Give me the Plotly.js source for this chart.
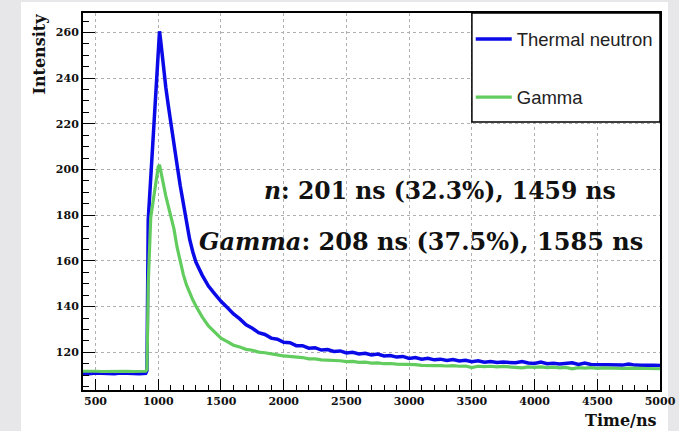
<!DOCTYPE html>
<html>
<head>
<meta charset="utf-8">
<script src="https://cdn.plot.ly/plotly-3.0.1.min.js"></script>
<style>
html,body{margin:0;padding:0;background:#e7e7e9;width:679px;height:431px;overflow:hidden;}
#chart{position:absolute;left:21px;top:2px;width:647px;height:429px;}
.main-svg{overflow:visible !important;}
</style>
</head>
<body>
<div id="chart"></div>
<script>
// Time axis (ns)
const time = [
  400,450,500,550,600,650,700,750,800,850,900,
  910,920,940,960,980,990,1000,1010,1020,1030,1040,1060,1080,1100,1125,1150,1175,1200,1225,1250,1275,1300,
  1350,1400,1450,1500,1550,1600,1650,1700,1750,1800,1850,1900,1950,2000,
  2050,2100,2150,2200,2250,2300,2350,2400,2450,2500,2550,2600,2650,2700,2750,2800,2850,2900,2950,3000,
  3050,3100,3150,3200,3250,3300,3350,3400,3450,3500,3550,3600,3650,3700,3750,3800,3850,3900,3950,4000,
  4050,4100,4150,4200,4250,4300,4350,4400,4450,4500,4550,4600,4650,4700,4750,4800,4850,4900,4950,5000
];
// Thermal neutron intensity
const neutron = [
  110.8,110.6,110.9,110.7,110.8,110.6,110.9,110.7,110.8,110.6,110.8,
  112,178,197,216,236,247,256.5,260.5,256,250,244,236,228,220,211,202,193,184.5,176.5,169.5,164,159.5,
  153.8,149,145.6,142.3,139.6,136.8,134.6,132.0,130.5,128.6,127.8,126.2,125.7,124.4,
  124.2,122.9,122.9,121.8,122.0,121.0,121.2,120.4,120.6,119.7,120.0,119.3,119.6,118.8,119.2,118.4,118.6,117.9,118.2,117.3,
  117.7,117.0,117.4,116.7,117.0,116.4,116.8,116.2,116.5,115.9,116.3,115.7,116.0,115.5,115.7,115.4,115.4,116.0,115.3,115.1,
  115.7,115.0,115.2,114.9,115.0,115.4,114.7,115.3,114.7,114.6,114.7,114.4,114.6,114.4,114.9,114.4,114.3,114.4,114.3,114.2
];
// Gamma intensity
const gamma = [
  111.7,111.8,111.7,111.6,111.7,111.8,111.7,111.7,111.6,111.7,111.7,
  112.5,150,179,186,194,198,201.3,202,199,196,193,188.5,184,179.5,174,166,159.5,154,149.5,146,143,140.3,
  135.5,131.5,128.6,126.2,124.7,123.1,122.3,121.3,120.9,120.1,119.8,119.2,118.9,118.4,
  118.2,117.7,117.7,117.1,117.1,116.7,116.6,116.3,116.3,115.9,116.0,115.6,115.7,115.3,115.4,115.0,115.1,114.8,114.8,114.5,
  114.6,114.3,114.4,114.2,114.2,114.0,114.2,113.9,114.0,113.3,113.9,113.7,113.9,113.6,113.8,113.6,113.1,113.2,113.6,113.4,
  113.6,113.3,113.5,113.2,113.4,112.8,113.3,113.1,113.3,113.0,113.2,113.0,113.1,112.9,113.1,112.9,113.0,112.9,112.9,112.8
];
const seriesNames = ['Thermal neutron', 'Gamma'];
const xTicks = [500,1000,1500,2000,2500,3000,3500,4000,4500,5000];
const yTicks = [120,140,160,180,200,220,240,260];
const fitText = [
  '<i>n</i>: 201 ns (32.3%), 1459 ns',
  '<i>Gamma</i>: 208 ns (37.5%), 1585 ns'
];

const serif = {family:'DejaVu Serif', size:11, weight:'bold', color:'#111'};

const traces = [
  {x: time, y: neutron, type:'scatter', mode:'lines', name: seriesNames[0], legendgroup:'a',
   line:{color:'#0a0ae8', width:3.5}},
  {x: time, y: gamma, type:'scatter', mode:'lines', name: seriesNames[1], legendgroup:'b',
   line:{color:'#62cd5e', width:3.2}}
];

const layout = {
  width:647, height:429,
  margin:{l:62, r:8, t:11, b:41},
  paper_bgcolor:'#ffffff', plot_bgcolor:'#ffffff',
  showlegend:true,
  legend:{x:0.672, xanchor:'left', y:0.980, yanchor:'top', bgcolor:'rgba(0,0,0,0)', borderwidth:0,
          itemwidth:36,
          font:{family:'Liberation Sans', size:18.5, color:'#222'}, traceorder:'grouped', tracegroupgap:31},
  xaxis:{range:[400,5000], tickvals:xTicks, ticks:'inside', ticklen:11, tickwidth:1, tickcolor:'#000',
         showline:true, linewidth:2, linecolor:'#000', mirror:true, zeroline:false,
         showgrid:true, gridcolor:'#b0b0b0', griddash:'dot', gridwidth:1,
         ticklabeloverflow:'allow',
         minor:{dtick:100, tick0:0, ticks:'inside', ticklen:5, tickcolor:'#000', showgrid:false},
         tickfont:serif},
  yaxis:{range:[103.5,268.5], tickvals:yTicks, ticks:'inside', ticklen:12, tickwidth:1, tickcolor:'#000',
         showline:true, linewidth:2, linecolor:'#000', mirror:true, zeroline:false,
         showgrid:true, gridcolor:'#b0b0b0', griddash:'dot', gridwidth:1,
         minor:{dtick:5, tick0:0, ticks:'inside', ticklen:6, tickcolor:'#000', showgrid:false},
         tickfont:serif},
  shapes:[
    {type:'rect', xref:'paper', yref:'paper', x0:0.674, x1:1, y0:0.711, y1:1,
     fillcolor:'#ffffff', line:{color:'#000', width:1.5}, layer:'above'}
  ],
  annotations:[
    {text:'Intensity', xref:'paper', yref:'paper', x:-0.0754, y:0.891, textangle:-90,
     xanchor:'center', yanchor:'middle', showarrow:false,
     font:{family:'DejaVu Serif', size:16, weight:'bold', color:'#111'}},
    {text:'Time/ns', xref:'paper', yref:'paper', x:0.933, y:-0.082,
     xanchor:'center', yanchor:'middle', showarrow:false,
     font:{family:'DejaVu Serif', size:16, weight:'bold', color:'#111'}},
    {text:fitText[0], xref:'paper', yref:'paper', x:0.310, y:0.529, xanchor:'left', yanchor:'middle',
     showarrow:false, font:{family:'DejaVu Serif', size:23.5, weight:'bold', color:'#111'}},
    {text:fitText[1], xref:'paper', yref:'paper', x:0.1976, y:0.394, xanchor:'left', yanchor:'middle',
     showarrow:false, font:{family:'DejaVu Serif', size:24, weight:'bold', color:'#111'}}
  ]
};

Plotly.newPlot('chart', traces, layout, {staticPlot:true, displayModeBar:false});
</script>
</body>
</html>
